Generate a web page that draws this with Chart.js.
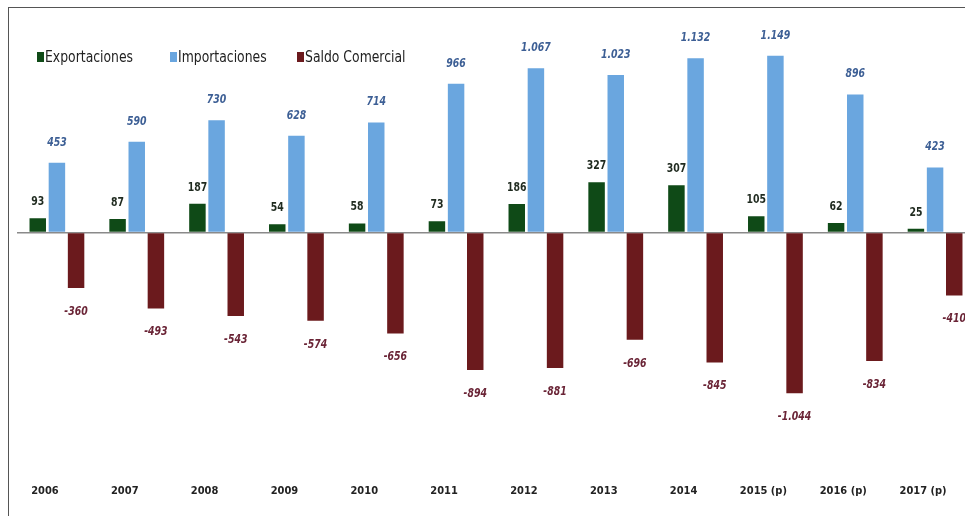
<!DOCTYPE html>
<html lang="es">
<head>
<meta charset="UTF-8">
<title>Balanza comercial 2006-2017</title>
<script src="https://cdn.jsdelivr.net/npm/chart.js"></script>
<style>
body {
    margin: 0;
    background: #ffffff;
    overflow: hidden;
    width: 965px;
    height: 516px;
    position: relative;
}
.frame {
    position: absolute;
    left: 8px;
    top: 7px;
    width: 1000px;
    height: 560px;
    border-left: 1px solid #555;
    border-top: 1px solid #555;
}
#chartBox {
    position: absolute;
    left: 0;
    top: 0;
}
.legend {
    position: absolute;
    left: 37px;
    top: 48px;
    font-family: "Liberation Sans Narrow", "DejaVu Sans Condensed", Arial, sans-serif;
    font-size: 15px;
    color: #222;
    white-space: nowrap;
}
.legend span {
    position: absolute;
    top: 0;
    display: inline-flex;
    align-items: center;
}
.legend i {
    display: inline-block;
    width: 7px;
    height: 10px;
    margin-right: 1px;
}
.legend b {
    font-weight: normal;
    display: inline-block;
    transform: scaleX(0.92);
    transform-origin: left center;
}
</style>
</head>
<body>
<div class="frame"></div>
<canvas id="chartBox" width="990" height="516"></canvas>
<div class="legend">
    <span style="left:0"><i style="background:#0f4a17"></i><b>Exportaciones</b></span>
    <span style="left:133px"><i style="background:#6aa6df"></i><b>Importaciones</b></span>
    <span style="left:260px"><i style="background:#6b1a1d"></i><b>Saldo Comercial</b></span>
</div>
<script>
const years = ['2006', '2007', '2008', '2009', '2010', '2011', '2012', '2013', '2014', '2015 (p)', '2016 (p)', '2017 (p)'];
const exportaciones = [93, 87, 187, 54, 58, 73, 186, 327, 307, 105, 62, 25];
const importaciones = [453, 590, 730, 628, 714, 966, 1067, 1023, 1132, 1149, 896, 423];
const saldo = [-360, -493, -543, -574, -656, -894, -881, -696, -845, -1044, -834, -410];

const narrow = '"Liberation Sans Narrow", "DejaVu Sans Condensed", Arial, sans-serif';

// 1067 -> "1.067", -1044 -> "-1.044"
function fmt(v) {
    const s = String(Math.abs(v)).replace(/\B(?=(\d{3})+(?!\d))/g, '.');
    return (v < 0 ? '-' : '') + s;
}

// value labels, squeezed horizontally like a narrow font
const valueLabels = {
    id: 'valueLabels',
    afterDatasetsDraw(chart) {
        const ctx = chart.ctx;
        chart.data.datasets.forEach((ds, i) => {
            const meta = chart.getDatasetMeta(i);
            meta.data.forEach((bar, j) => {
                const v = ds.data[j];
                ctx.save();
                ctx.font = (ds.labelItalic ? 'italic ' : '') + 'bold 13px ' + narrow;
                ctx.fillStyle = ds.labelColor;
                ctx.textAlign = 'center';
                if (v >= 0) {
                    ctx.textBaseline = 'bottom';
                    ctx.translate(bar.x, bar.y - ds.labelGap);
                } else {
                    ctx.textBaseline = 'top';
                    ctx.translate(bar.x, bar.y + ds.labelGap);
                }
                ctx.scale(0.8, 1);
                ctx.fillText(fmt(v), 0, 0);
                ctx.restore();
            });
        });
    }
};

new Chart(document.getElementById('chartBox'), {
    type: 'bar',
    data: {
        labels: years,
        datasets: [
            { label: 'Exportaciones', data: exportaciones, backgroundColor: '#0f4a17', labelColor: '#1f2a1f', labelItalic: false, labelGap: 10 },
            { label: 'Importaciones', data: importaciones, backgroundColor: '#6aa6df', labelColor: '#3d5f95', labelItalic: true, labelGap: 14 },
            { label: 'Saldo Comercial', data: saldo, backgroundColor: '#6b1a1d', labelColor: '#6a2436', labelItalic: true, labelGap: 17 }
        ]
    },
    options: {
        responsive: false,
        animation: false,
        devicePixelRatio: 1,
        layout: { padding: { left: 17, right: 15, top: 17, bottom: 12 } },
        datasets: {
            bar: { categoryPercentage: 0.72, barPercentage: 0.86 }
        },
        plugins: {
            legend: { display: false },
            tooltip: { enabled: false }
        },
        scales: {
            x: {
                grid: { display: false, drawTicks: false },
                border: { display: false },
                ticks: {
                    padding: 6,
                    labelOffset: -12,
                    color: '#222',
                    font: { family: narrow, size: 11, weight: 'bold' }
                }
            },
            y: {
                min: -1600,
                max: 1400,
                border: { display: false },
                grid: {
                    drawTicks: false,
                    color: c => c.tick && c.tick.value === 0 ? '#8a8a8a' : 'rgba(0,0,0,0)',
                    lineWidth: 1.5
                },
                ticks: { display: false, stepSize: 200 }
            }
        }
    },
    plugins: [valueLabels]
});
</script>
</body>
</html>
